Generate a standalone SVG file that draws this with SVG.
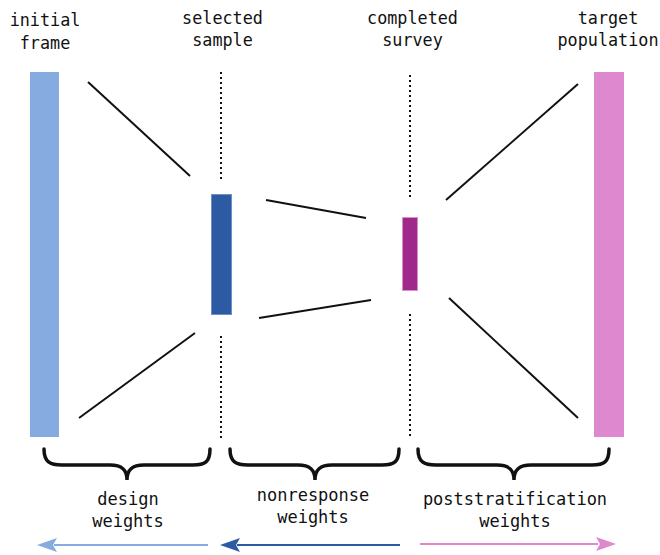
<svg xmlns="http://www.w3.org/2000/svg" width="660" height="555" viewBox="0 0 660 555">
<style>
.t{font-family:"DejaVu Sans Mono","Liberation Mono",monospace;font-size:16.8px;fill:#111;text-anchor:middle}
.b{font-family:"DejaVu Sans Mono","Liberation Mono",monospace;font-size:17px;fill:#111;text-anchor:middle}
.ln{stroke:#111;stroke-width:2;fill:none}
.dot{stroke:#111;stroke-width:2;stroke-dasharray:2,3;fill:none}
.br{stroke:#111;stroke-width:3.5;fill:none;stroke-linecap:round}
</style>
<rect width="660" height="555" fill="#fff"/>
<g id="initial-frame">
<rect x="30" y="72" width="29" height="365" fill="#86abe0"/>
<text class="t" x="45" y="26">initial</text>
<text class="t" x="45" y="49">frame</text>
</g>
<g id="selected-sample">
<rect x="211.5" y="194.5" width="20" height="120" fill="#2c5ba3" stroke="#6f8fc8" stroke-width="1"/>
<text class="t" x="222.5" y="24">selected</text>
<text class="t" x="222.5" y="46">sample</text>
</g>
<g id="completed-survey">
<rect x="402.5" y="217.5" width="15" height="73" fill="#a0288a" stroke="#d88fcc" stroke-width="1"/>
<text class="t" x="412.5" y="24">completed</text>
<text class="t" x="412.5" y="46">survey</text>
</g>
<g id="target-population">
<rect x="594" y="72" width="30" height="365" fill="#de88cf"/>
<text class="t" x="608" y="24">target</text>
<text class="t" x="608" y="46">population</text>
</g>
<g id="connectors">
<line class="dot" x1="221" y1="72" x2="221" y2="180"/>
<line class="dot" x1="221" y1="336" x2="221" y2="438"/>
<line class="dot" x1="410" y1="75" x2="410" y2="197"/>
<line class="dot" x1="410" y1="314" x2="410" y2="438"/>
<line class="ln" x1="88" y1="82" x2="190" y2="176"/>
<line class="ln" x1="79" y1="418" x2="195" y2="333"/>
<line class="ln" x1="266" y1="200" x2="366" y2="218"/>
<line class="ln" x1="259" y1="318" x2="371" y2="300"/>
<line class="ln" x1="446" y1="200" x2="578" y2="84"/>
<line class="ln" x1="449" y1="298" x2="578" y2="418"/>
<path class="br" d="M44,449 C44,462 50,465 62,465 L110,465 C122,465 127,470 127,480 C127,470 132,465 144,465 L193,465 C205,465 210,462 210,449"/>
<path class="br" d="M230,449 C230,462 236,465 248,465 L298,465 C310,465 315,470 315,480 C315,470 320,465 332,465 L382,465 C394,465 399,462 399,449"/>
<path class="br" d="M418,449 C418,462 424,465 436,465 L497,465 C509,465 514,470 514,480 C514,470 519,465 531,465 L592,465 C604,465 609,462 609,449"/>
<line x1="54" y1="545" x2="208" y2="545" stroke="#86abe0" stroke-width="2"/>
<path d="M37,545 L57,538 L53,545 L57,552 Z" fill="#86abe0"/>
<line x1="237" y1="545" x2="400" y2="545" stroke="#2c5ba3" stroke-width="2"/>
<path d="M220,545 L240,538 L236,545 L240,552 Z" fill="#2c5ba3"/>
<line x1="420" y1="544" x2="598" y2="544" stroke="#de88cf" stroke-width="2"/>
<path d="M616,544 L596,537 L600,544 L596,551 Z" fill="#de88cf"/>
</g>
<g id="labels">
<text class="b" x="128" y="505">design</text>
<text class="b" x="128" y="527">weights</text>
<text class="b" x="313" y="501">nonresponse</text>
<text class="b" x="313" y="523">weights</text>
<text class="b" x="515" y="505">poststratification</text>
<text class="b" x="515" y="527">weights</text>
</g>
</svg>
